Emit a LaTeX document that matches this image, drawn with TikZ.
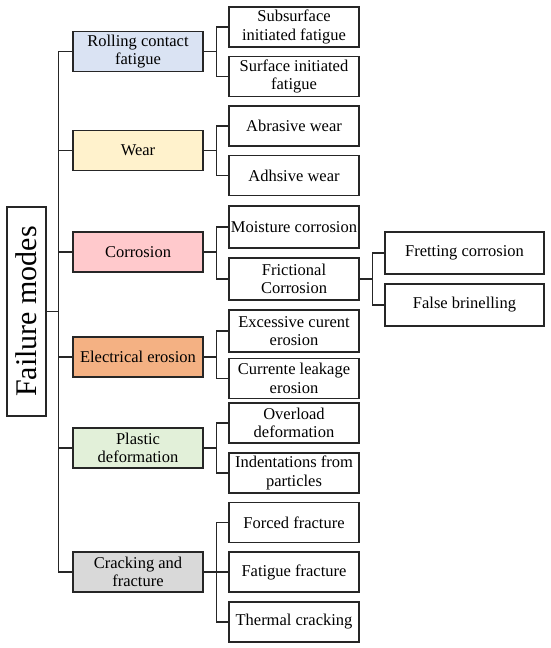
\documentclass[tikz,border=0pt]{standalone}
\usepackage{fontspec}
\setmainfont{Liberation Serif}
\usetikzlibrary{positioning}
\definecolor{rcfblue}{HTML}{DAE3F3}
\definecolor{wearyellow}{HTML}{FFF2CC}
\definecolor{corrpink}{HTML}{FFC9CC}
\definecolor{eroorange}{HTML}{F4B183}
\definecolor{plastgreen}{HTML}{E2F0D9}
\definecolor{crackgrey}{HTML}{D9D9D9}
\definecolor{inkline}{HTML}{262626}
\tikzset{
  box/.style={draw=inkline,line width=1.4pt,align=center,inner sep=0pt,
    minimum width=130,minimum height=40,
    font=\fontsize{16.5}{18.5}\selectfont},
  mode/.style={box,fill=#1},
  leaf/.style={box,fill=white},
  link/.style={draw=inkline,line width=1.4pt}
}
% parent -> first child ... last child, elbow 13pt right of the parent
\newcommand{\branch}[3]{%
  \draw[link] (#1.east) -- ++(13,0) coordinate (#1-j);
  \draw[link] (#2.west) -| (#1-j) |- (#3.west);}

\begin{document}
\begin{tikzpicture}[x=1pt,y=-1pt]
  \useasboundingbox (0,0) rectangle (550,648);

  % root
  \node[box,minimum width=39,minimum height=209,fill=white,
    font=\fontsize{30}{30}\selectfont] (root) at (26.5,311.5)
    {\rotatebox{90}{Failure modes}};

  % failure modes
  \node[mode=rcfblue]    (rcf)   at (138,51.5)  {Rolling contact\\fatigue};
  \node[mode=wearyellow] (wear)  at (138,150.5) {Wear};
  \node[mode=corrpink]   (corr)  at (138,252)   {Corrosion};
  \node[mode=eroorange]  (elec)  at (138,357)   {Electrical erosion};
  \node[mode=plastgreen] (plast) at (138,448)   {Plastic\\deformation};
  \node[mode=crackgrey]  (crack) at (138,572)   {Cracking and\\fracture};

  % sub modes
  \node[leaf] (subs)   at (294,27)    {Subsurface\\initiated fatigue};
  \node[leaf] (surf)   at (294,76.5)  {Surface initiated\\fatigue};
  \node[leaf] (abr)    at (294,126)   {Abrasive wear};
  \node[leaf] (adh)    at (294,175.5) {Adhsive wear};
  \node[leaf,minimum height=42] (moist) at (294,227) {Moisture corrosion};
  \node[leaf,minimum height=42] (fric)  at (294,279) {Frictional\\Corrosion};
  \node[leaf,minimum height=42] (exc)   at (294,331) {Excessive curent\\erosion};
  \node[leaf] (curr)   at (294,378.5) {Currente leakage\\erosion};
  \node[leaf] (over)   at (294,423)   {Overload\\deformation};
  \node[leaf] (indent) at (294,473)   {Indentations from\\particles};
  \node[leaf] (forced) at (294,522.5) {Forced fracture};
  \node[leaf] (fatfr)  at (294,572)   {Fatigue fracture};
  \node[leaf] (therm)  at (294,622)   {Thermal cracking};

  % frictional corrosion split
  \node[leaf,minimum width=159,minimum height=42] (fret)  at (464.5,253) {Fretting corrosion};
  \node[leaf,minimum width=159,minimum height=42] (false) at (464.5,305) {False brinelling};

  % trunk
  \draw[link] (rcf.west) -- ++(-14,0) coordinate (trunk) |- (crack.west);
  \foreach \m in {wear,corr,elec,plast}
    \draw[link] (\m.west) -- (\m.west -| trunk);
  \draw[link] (root.east) -- (root.east -| trunk);

  % branches
  \branch{rcf}{subs}{surf}
  \branch{wear}{abr}{adh}
  \branch{corr}{moist}{fric}
  \branch{elec}{exc}{curr}
  \branch{plast}{over}{indent}
  \branch{crack}{forced}{therm}
  \draw[link] (crack-j) -- (fatfr.west);
  \branch{fric}{fret}{false}
\end{tikzpicture}
\end{document}
